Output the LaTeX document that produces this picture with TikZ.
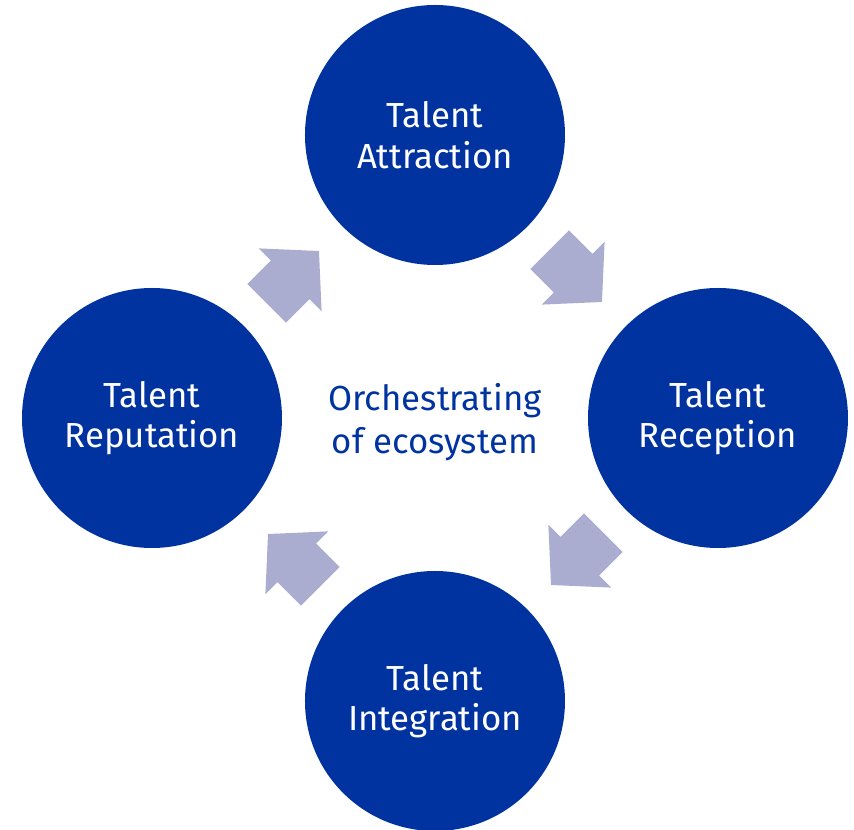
\documentclass[tikz,border=0pt]{standalone}
\usepackage{fontspec}
\setmainfont{Fira Sans}
\usetikzlibrary{shapes.arrows,calc}

\definecolor{ecblue}{RGB}{0,51,160}
\definecolor{arrowlav}{RGB}{170,173,208}

\def \circlesize {5.2cm}
\def \offset {5.66}

\tikzset{
  stage/.style={circle, fill=ecblue, text=white, minimum size=\circlesize, inner sep=0pt, align=center, font=\fontsize{19.8}{23}\selectfont},
  flow/.style={single arrow, fill=arrowlav, draw=none, inner xsep=0pt, inner ysep=0.54cm, minimum height=1.48cm, single arrow head extend=0.34cm, single arrow tip angle=95, xshift=-0.27cm}
}

\begin{document}
\begin{tikzpicture}
\useasboundingbox (-8.7,-8.24) rectangle (8.38,8.36);
\node[stage] (attr) at (0,\offset) {Talent\\Attraction};
\node[stage] (recep) at (\offset,0) {Talent\\Reception};
\node[stage] (integ) at (0,-\offset) {Talent\\Integration};
\node[stage] (repu) at (-\offset,0) {Talent\\Reputation};
\node[align=center, text=ecblue, font=\fontsize{19.8}{24.5}\selectfont] (orch) at (0,-0.08) {Orchestrating\\of ecosystem};
% arrows between the stages
\node[rotate=45, flow] (a1) at ($(repu)!0.5!(attr)$) {};
\node[rotate=-45, flow] (a2) at ($(attr)!0.5!(recep)$) {};
\node[rotate=-135, flow] (a3) at ($(recep)!0.5!(integ)$) {};
\node[rotate=135, flow] (a4) at ($(integ)!0.5!(repu)$) {};
\end{tikzpicture}
\end{document}
